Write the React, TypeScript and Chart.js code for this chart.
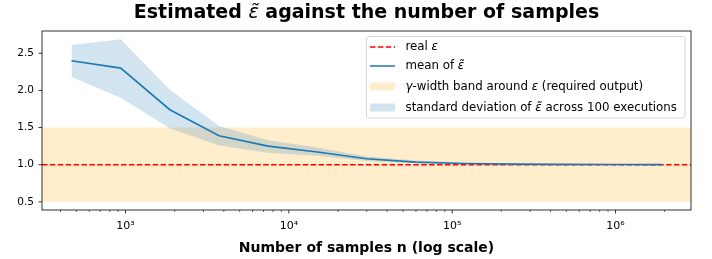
import React, { useEffect, useRef } from 'react';
import { Chart, registerables } from 'chart.js';

Chart.register(...registerables);

// ---------- data ----------
const samples = [467, 934, 1868, 3736, 7472, 14944, 29888, 59776, 119552, 239104, 478208, 956416, 1912832];
const meanEps = [2.40, 2.30, 1.74, 1.39, 1.25, 1.17, 1.08, 1.035, 1.016, 1.008, 1.004, 1.002, 1.001];
const stdUpper = [2.61, 2.69, 2.01, 1.52, 1.33, 1.23, 1.11, 1.055, 1.027, 1.015, 1.009, 1.006, 1.004];
const stdLower = [2.18, 1.90, 1.49, 1.26, 1.16, 1.12, 1.05, 1.02, 1.006, 1.001, 0.999, 0.998, 0.998];
const realEps = 1.0;
const bandLow = 0.5;
const bandHigh = 1.5;
const yTicks = [0.5, 1.0, 1.5, 2.0, 2.5];
const xMajorTicks = [1e3, 1e4, 1e5, 1e6];
const xTickLabels = ['10³', '10⁴', '10⁵', '10⁶'];

const titleSegs: [string, boolean][] = [['Estimated ', false], ['ε̃', true], [' against the number of samples', false]];
const xLabel = 'Number of samples n (log scale)';
const legendRows: [string, boolean][][] = [
  [['real ', false], ['ε', true]],
  [['mean of ', false], ['ε̃', true]],
  [['γ', true], ['-width band around ', false], ['ε', true], [' (required output)', false]],
  [['standard deviation of ', false], ['ε̃', true], [' across 100 executions', false]],
];

// ---------- axis limits (matplotlib-like 5% margins) ----------
const lxMin = Math.log10(samples[0]);
const lxMax = Math.log10(samples[samples.length - 1]);
const lxSpan = lxMax - lxMin;
const xMin = Math.pow(10, lxMin - 0.05 * lxSpan);
const xMax = Math.pow(10, lxMax + 0.05 * lxSpan);
const yDataMin = Math.min(bandLow, ...stdLower);
const yDataMax = Math.max(bandHigh, ...stdUpper);
const ySpan = yDataMax - yDataMin;
const yMin = yDataMin - 0.05 * ySpan;
const yMax = yDataMax + 0.05 * ySpan;

const BLUE = '#1f77b4';
const FONT = '"DejaVu Sans"';

function drawRich(ctx: CanvasRenderingContext2D, segs: [string, boolean][], x: number, y: number, size: number, bold: boolean, align: 'left' | 'center') {
  const fontFor = (it: boolean) => (it ? `italic ${size}px ${FONT}` : `${bold ? 'bold ' : ''}${size}px ${FONT}`);
  let total = 0;
  for (const [t, it] of segs) { ctx.font = fontFor(it); total += ctx.measureText(t).width; }
  let cx = align === 'center' ? x - total / 2 : x;
  ctx.textAlign = 'left';
  for (const [t, it] of segs) {
    ctx.font = fontFor(it);
    ctx.fillText(t, cx, y);
    cx += ctx.measureText(t).width;
  }
}

const decorPlugin = {
  id: 'decor',
  afterDraw(chart: any) {
    const ctx: CanvasRenderingContext2D = chart.ctx;
    const { left, right, top, bottom } = chart.chartArea;
    const xs = chart.scales.x;
    const ys = chart.scales.y;
    ctx.save();
    // spines
    ctx.strokeStyle = '#000';
    ctx.lineWidth = 0.8;
    ctx.strokeRect(left, top, right - left, bottom - top);
    // y ticks
    for (const v of yTicks) {
      const py = ys.getPixelForValue(v);
      ctx.beginPath(); ctx.moveTo(left - 3.5, py); ctx.lineTo(left, py); ctx.stroke();
    }
    // x major ticks
    for (const v of xMajorTicks) {
      const px = xs.getPixelForValue(v);
      ctx.beginPath(); ctx.moveTo(px, bottom); ctx.lineTo(px, bottom + 3.5); ctx.stroke();
    }
    // x minor ticks
    ctx.lineWidth = 0.6;
    for (let d = 2; d <= 6; d++) {
      for (let m = 2; m <= 9; m++) {
        const v = m * Math.pow(10, d);
        if (v < xMin || v > xMax) continue;
        const px = xs.getPixelForValue(v);
        ctx.beginPath(); ctx.moveTo(px, bottom); ctx.lineTo(px, bottom + 2); ctx.stroke();
      }
    }
    // title & x label
    ctx.fillStyle = '#000';
    ctx.textBaseline = 'alphabetic';
    drawRich(ctx, titleSegs, (left + right) / 2, 17.5, 19, true, 'center');
    drawRich(ctx, [[xLabel, false]], (left + right) / 2, 251.5, 14, true, 'center');

    // legend
    const lx = 366.5, ly = 36.5, lw = 318.5, lh = 81.5;
    ctx.beginPath();
    (ctx as any).roundRect(lx, ly, lw, lh, 2.5);
    ctx.fillStyle = 'rgba(255,255,255,0.8)';
    ctx.fill();
    ctx.strokeStyle = 'rgba(204,204,204,0.8)';
    ctx.lineWidth = 1;
    ctx.stroke();
    const rowsY = [47, 66, 86.5, 107.5];
    const hx0 = 370, hx1 = 395, tx = 405.5;
    ctx.strokeStyle = '#ff0000'; ctx.lineWidth = 1.5; ctx.setLineDash([5.5, 2.4]);
    ctx.beginPath(); ctx.moveTo(hx0, rowsY[0]); ctx.lineTo(hx1, rowsY[0]); ctx.stroke();
    ctx.setLineDash([]);
    ctx.strokeStyle = BLUE;
    ctx.beginPath(); ctx.moveTo(hx0, rowsY[1]); ctx.lineTo(hx1, rowsY[1]); ctx.stroke();
    ctx.fillStyle = 'rgba(255,165,0,0.2)';
    ctx.fillRect(hx0, rowsY[2] - 4, hx1 - hx0, 8);
    ctx.fillStyle = 'rgba(31,119,180,0.2)';
    ctx.fillRect(hx0, rowsY[3] - 4, hx1 - hx0, 8);
    ctx.fillStyle = '#000';
    ctx.textBaseline = 'middle';
    legendRows.forEach((segs, i) => drawRich(ctx, segs, tx, rowsY[i], 11.8, false, 'left'));
    ctx.restore();
  },
};

export default function App() {
  const ref = useRef<HTMLCanvasElement | null>(null);
  useEffect(() => {
    if (!ref.current) return;
    const pts = (ys: number[]) => samples.map((x, i) => ({ x, y: ys[i] }));
    const chart = new Chart(ref.current, {
      type: 'line',
      data: {
        datasets: [
          { label: 'mean', data: pts(meanEps), borderColor: BLUE, borderWidth: 1.6, pointRadius: 0, fill: false, tension: 0 },
          { label: 'real', data: [{ x: xMin, y: realEps }, { x: xMax, y: realEps }], borderColor: '#ff0000', borderWidth: 1.5, borderDash: [5.5, 2.4], pointRadius: 0, fill: false },
          { label: 'stdU', data: pts(stdUpper), borderColor: 'rgba(0,0,0,0)', borderWidth: 0, pointRadius: 0, fill: { target: 3 }, backgroundColor: 'rgba(31,119,180,0.2)' },
          { label: 'stdL', data: pts(stdLower), borderColor: 'rgba(0,0,0,0)', borderWidth: 0, pointRadius: 0, fill: false },
          { label: 'bandU', data: [{ x: xMin, y: bandHigh }, { x: xMax, y: bandHigh }], borderColor: 'rgba(0,0,0,0)', borderWidth: 0, pointRadius: 0, fill: { target: 5 }, backgroundColor: 'rgba(255,165,0,0.2)' },
          { label: 'bandL', data: [{ x: xMin, y: bandLow }, { x: xMax, y: bandLow }], borderColor: 'rgba(0,0,0,0)', borderWidth: 0, pointRadius: 0, fill: false },
        ] as any,
      },
      options: {
        responsive: false,
        animation: false,
        devicePixelRatio: 1,
        layout: { padding: { top: 31, right: 21, left: 0, bottom: 0 } },
        plugins: { legend: { display: false }, title: { display: false }, tooltip: { enabled: false } },
        events: [],
        scales: {
          x: {
            type: 'logarithmic',
            min: xMin,
            max: xMax,
            grid: { display: false, drawTicks: false },
            border: { display: false },
            afterBuildTicks: (s: any) => { s.ticks = xMajorTicks.map((v) => ({ value: v })); },
            afterFit: (s: any) => { s.height = 49; },
            ticks: {
              autoSkip: false, maxRotation: 0, padding: 10, color: '#000',
              font: { family: 'DejaVu Sans', size: 11 },
              callback: (v: any) => { const i = xMajorTicks.indexOf(Number(v)); return i >= 0 ? xTickLabels[i] : ''; },
            },
          },
          y: {
            type: 'linear',
            min: yMin,
            max: yMax,
            grid: { display: false, drawTicks: false },
            border: { display: false },
            afterBuildTicks: (s: any) => { s.ticks = yTicks.map((v) => ({ value: v })); },
            afterFit: (s: any) => { s.width = 42; },
            ticks: {
              padding: 8, color: '#000',
              font: { family: 'DejaVu Sans', size: 10.5 },
              callback: (v: any) => Number(v).toFixed(1),
            },
          },
        },
      } as any,
      plugins: [decorPlugin],
    });
    return () => chart.destroy();
  }, []);
  return (
    <div style={{ position: 'fixed', left: 0, top: 0, width: 712, height: 259, background: '#fff' }}>
      <canvas ref={ref} width={712} height={259} style={{ display: 'block' }} />
    </div>
  );
}
